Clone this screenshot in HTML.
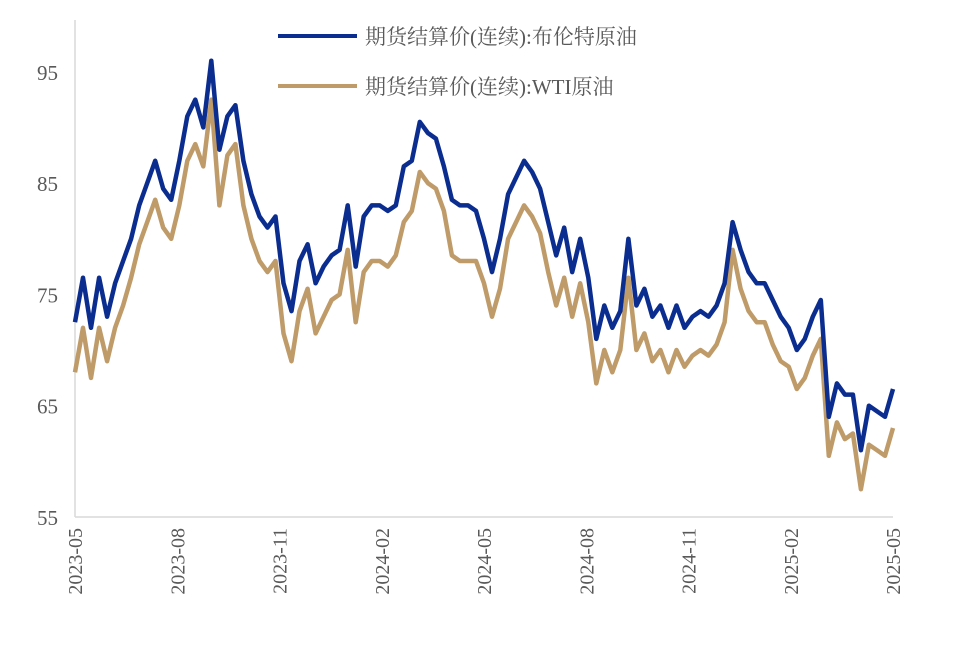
<!DOCTYPE html>
<html><head><meta charset="utf-8"><style>
html,body{margin:0;padding:0;background:#fff;}
svg{display:block;}
text{font-family:"Liberation Serif","Noto Serif CJK SC",serif;fill:#595959;}
</style></head><body>
<svg id="chart" width="957" height="648">
<line x1="75" y1="20" x2="75" y2="517" stroke="#d9d9d9" stroke-width="1.5"/>
<line x1="75" y1="517" x2="893" y2="517" stroke="#d9d9d9" stroke-width="1.5"/>
<g id="yticks"></g>
<g id="xticks"></g>
<g id="series"></g>
<g>
<line x1="278" y1="36" x2="357" y2="36" stroke="#0b2d8f" stroke-width="4"/>
<text x="365" y="44" font-size="21">期货结算价(连续):布伦特原油</text>
<line x1="278" y1="86" x2="357" y2="86" stroke="#bf9b69" stroke-width="4"/>
<text x="365" y="94" font-size="21">期货结算价(连续):WTI原油</text>
</g>
</svg>
<script>
const yTicks=[95,85,75,65,55];
const xLabels=["2023-05","2023-08","2023-11","2024-02","2024-05","2024-08","2024-11","2025-02","2025-05"];
const brent=[72.5,76.5,72,76.5,73,76,78,80,83,85,87,84.5,83.5,87,91,92.5,90,96,88,91,92,87,84,82,81,82,76,73.5,78,79.5,76,77.5,78.5,79,83,77.5,82,83,83,82.5,83,86.5,87,90.5,89.5,89,86.5,83.5,83,83,82.5,80,77,80,84,85.5,87,86,84.5,81.5,78.5,81,77,80,76.5,71,74,72,73.5,80,74,75.5,73,74,72,74,72,73,73.5,73,74,76,81.5,79,77,76,76,74.5,73,72,70,71,73,74.5,64,67,66,66,61,65,64.5,64,66.5];
const wti=[68,72,67.5,72,69,72,74,76.5,79.5,81.5,83.5,81,80,83,87,88.5,86.5,92.5,83,87.5,88.5,83,80,78,77,78,71.5,69,73.5,75.5,71.5,73,74.5,75,79,72.5,77,78,78,77.5,78.5,81.5,82.5,86,85,84.5,82.5,78.5,78,78,78,76,73,75.5,80,81.5,83,82,80.5,77,74,76.5,73,76,72.5,67,70,68,70,76.5,70,71.5,69,70,68,70,68.5,69.5,70,69.5,70.5,72.5,79,75.5,73.5,72.5,72.5,70.5,69,68.5,66.5,67.5,69.5,71,60.5,63.5,62,62.5,57.5,61.5,61,60.5,63];
const X0=75,X1=893,Y0=517;
function yScale(v){return Y0-(v-55)*11.13;}
function xIdx(i,n){return X0+i*(X1-X0)/(n-1);}
const NS="http://www.w3.org/2000/svg";
const yg=document.getElementById('yticks');
yTicks.forEach(v=>{
 const t=document.createElementNS(NS,'text');
 
 
 t.setAttribute('x',58);t.setAttribute('y',yScale(v)+8);
 t.setAttribute('text-anchor','end');t.setAttribute('font-size','21');
 t.textContent=v;yg.appendChild(t);
});
const xg=document.getElementById('xticks');
xLabels.forEach((l,i)=>{
 const x=X0+i*(X1-X0)/(xLabels.length-1)+7;
 const t=document.createElementNS(NS,'text');
 
 
 t.setAttribute('transform','translate('+x+',528) rotate(-90)');
 t.setAttribute('text-anchor','end');t.setAttribute('font-size','20');
 t.textContent=l;xg.appendChild(t);
});
const sg=document.getElementById('series');
function draw(arr,color,name){
 const p=document.createElementNS(NS,'polyline');
 
 
 p.setAttribute('points',arr.map((v,i)=>xIdx(i,arr.length).toFixed(1)+','+yScale(v).toFixed(1)).join(' '));
 p.setAttribute('fill','none');p.setAttribute('stroke',color);p.setAttribute('stroke-width','4.5');
 p.setAttribute('stroke-linejoin','round');
 sg.appendChild(p);
}
draw(wti,'#bf9b69','wti-line');
draw(brent,'#0b2d8f','brent-line');
</script>
</body></html>
